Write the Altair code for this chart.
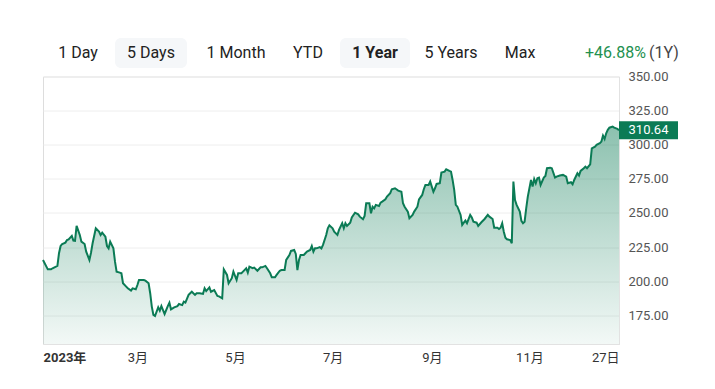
import altair as alt
import pandas as pd

# ---- data (day offset from 2023-01-01, closing price) ----
day_offsets = [
    0, 3, 5, 6, 9, 10, 11, 12, 14, 15, 16, 18, 19, 20, 21, 23, 24, 26, 27, 29,
    30, 31, 33, 35, 36, 37, 39, 40, 41, 42, 44, 45, 46, 48, 49, 50, 52, 53, 55, 56,
    58, 59, 60, 63, 64, 66, 67, 68, 69, 70, 72, 73, 74, 75, 76, 78, 79, 80, 82, 84,
    85, 87, 88, 89, 91, 92, 93, 95, 96, 98, 100, 101, 102, 104, 105, 107, 109, 110, 112, 113,
    115, 116, 118, 119, 121, 122, 124, 125, 127, 128, 129, 131, 132, 134, 136, 137, 139, 140, 142, 143,
    145, 146, 148, 149, 151, 152, 154, 155, 157, 158, 159, 160, 161, 163, 164, 165, 167, 168, 169, 170,
    171, 173, 174, 175, 177, 178, 179, 181, 182, 184, 185, 187, 188, 189, 190, 192, 193, 195, 197, 198,
    200, 201, 202, 204, 205, 206, 207, 208, 210, 211, 212, 214, 215, 217, 218, 220, 222, 224, 225, 226,
    228, 229, 231, 232, 234, 235, 237, 238, 239, 241, 242, 244, 245, 246, 248, 249, 251, 252, 254, 255,
    256, 257, 258, 259, 261, 262, 263, 264, 265, 267, 268, 269, 271, 272, 274, 276, 278, 279, 281, 282,
    284, 285, 286, 287, 288, 289, 290, 292, 293, 294, 295, 296, 298, 299, 300, 301, 302, 303, 305, 306,
    307, 308, 309, 310, 311, 313, 314, 315, 317, 318, 320, 321, 323, 325, 327, 328, 330, 331, 332, 334,
    335, 336, 338, 339, 340, 342, 343, 345, 346, 348, 349, 350, 351, 352, 353, 354, 356, 357, 359, 360,
]
prices = [
    215.6, 208.7, 208.7, 209.5, 211.2, 220.5, 225.8, 227.3, 228.3, 230.2, 230.7, 233.2, 229.7, 229.5, 240.5, 233.9, 229.0, 227.3, 221.7, 215.6,
    220.9, 227.8, 238.8, 236.3, 233.9, 235.6, 232.6, 225.8, 224.1, 229.0, 224.1, 214.3, 207.0, 206.3, 205.8, 198.5, 196.0, 194.8, 193.1, 194.8,
    194.1, 197.2, 200.9, 200.9, 200.4, 198.5, 191.2, 181.4, 175.3, 174.5, 180.9, 178.4, 181.8, 178.9, 176.0, 181.8, 184.3, 179.4, 180.9, 181.8,
    183.3, 182.5, 185.0, 184.3, 190.0, 191.2, 192.3, 190.0, 191.2, 191.2, 190.7, 194.8, 192.8, 195.5, 192.3, 193.5, 189.2, 188.9, 187.5, 208.7,
    204.6, 198.5, 202.2, 207.0, 200.9, 205.8, 205.8, 207.0, 209.5, 206.3, 210.7, 209.5, 210.0, 207.7, 210.2, 210.2, 211.2, 209.5, 205.8, 202.9,
    202.9, 204.6, 207.7, 208.2, 208.2, 215.6, 219.2, 222.2, 222.9, 220.0, 208.2, 215.6, 219.2, 219.2, 220.5, 221.7, 222.9, 225.8, 221.7, 224.1,
    224.1, 225.0, 224.1, 226.6, 233.9, 238.8, 241.0, 238.8, 236.3, 233.9, 237.6, 242.5, 238.8, 242.5, 240.5, 242.9, 246.8, 250.2, 249.0, 247.3,
    245.4, 247.8, 257.1, 257.1, 249.8, 254.6, 253.4, 255.9, 255.1, 257.6, 258.3, 260.0, 262.0, 264.5, 267.4, 268.1, 266.4, 265.6, 257.1, 254.6,
    251.0, 246.1, 248.6, 251.0, 254.6, 260.0, 263.2, 267.4, 270.5, 270.5, 273.0, 265.6, 268.1, 271.3, 271.8, 279.6, 280.3, 282.0, 280.8, 280.3,
    274.2, 266.9, 255.9, 254.6, 248.6, 241.2, 242.9, 244.4, 242.5, 248.6, 246.8, 243.6, 242.9, 240.5, 243.2, 245.6, 248.6, 247.3, 245.6, 239.2,
    239.2, 238.3, 239.2, 242.5, 236.3, 231.9, 230.7, 230.2, 227.8, 273.0, 259.5, 255.9, 251.0, 244.2, 242.5, 243.6, 253.4, 262.0, 274.2, 269.3,
    274.9, 271.8, 275.4, 275.9, 270.5, 275.9, 277.1, 282.8, 283.2, 282.8, 275.9, 276.6, 277.4, 277.9, 276.6, 271.8, 272.5, 271.0, 274.2, 279.1,
    277.4, 280.8, 282.8, 284.0, 282.8, 285.7, 297.4, 298.6, 299.9, 301.1, 302.3, 306.7, 304.2, 308.4, 310.9, 312.5, 313.3, 312.5, 311.6, 310.64,
]

x_tick_dates = ["2023-01-01", "2023-03-01", "2023-05-01", "2023-07-01", "2023-09-01", "2023-11-01", "2023-12-27"]
x_tick_labels = ["2023年", "3月", "5月", "7月", "9月", "11月", "27日"]
y_ticks = [175, 200, 225, 250, 275, 300, 325, 350]
y_floor = 154

buttons = ["1 Day", "5 Days", "1 Month", "YTD", "1 Year", "5 Years", "Max"]
selected_buttons = ["5 Days", "1 Year"]
change_text = "+46.88%"
period_text = "(1Y)"

# ---- build tables ----
start = pd.Timestamp("2023-01-01")
df = pd.DataFrame({
    "date": start + pd.to_timedelta(day_offsets, unit="D"),
    "price": prices,
})
last_df = df.tail(1)

FONT = "Roboto, 'Noto Sans CJK SC', sans-serif"
GREEN = "#0b7b55"

def dt(s):
    y, m, d = (int(p) for p in s.split("-"))
    return alt.DateTime(year=y, month=m, date=d)

label_expr = "''"
for d, lab in zip(reversed(x_tick_dates), reversed(x_tick_labels)):
    label_expr = f"timeFormat(datum.value, '%Y-%m-%d') == '{d}' ? '{lab}' : ({label_expr})"

x_enc = alt.X(
    "date:T",
    scale=alt.Scale(domain=[dt(x_tick_dates[0]), dt(x_tick_dates[-1])]),
    axis=alt.Axis(
        values=[dt(d) for d in x_tick_dates],
        tickCount=len(x_tick_dates) + 10,
        labelExpr=label_expr,
        labelFlush=True,
        labelOverlap=False,
        grid=False,
        ticks=False,
        domainColor="#e2e2e2",
        domainWidth=1,
        labelPadding=7,
        labelFont=FONT,
        labelFontSize=13,
        labelColor="#333333",
        labelFontWeight={"condition": {"test": f"timeFormat(datum.value, '%Y-%m-%d') == '{x_tick_dates[0]}'", "value": "bold"}, "value": "normal"},
        title=None,
    ),
)
y_enc = alt.Y(
    "price:Q",
    scale=alt.Scale(domain=[y_floor, 350], nice=False, zero=False),
    axis=alt.Axis(
        orient="right",
        values=y_ticks,
        tickCount=len(y_ticks) + 10,
        format=".2f",
        labelOverlap=False,
        ticks=False,
        domainColor="#e2e2e2",
        gridColor="#eeeeee",
        labelPadding=9,
        labelFont=FONT,
        labelFontSize=13,
        labelColor="#555555",
        title=None,
    ),
)

gradient = alt.Gradient(
    gradient="linear",
    stops=[
        alt.GradientStop(color="rgba(11,123,85,0.05)", offset=0),
        alt.GradientStop(color="rgba(11,123,85,0.47)", offset=1),
    ],
    x1=1, x2=1, y1=1, y2=0,
)

area = alt.Chart(df).mark_area(color=gradient).encode(x=x_enc, y=y_enc, y2=alt.datum(y_floor))
line = alt.Chart(df).mark_line(color=GREEN, strokeWidth=2).encode(x="date:T", y="price:Q")

tag = alt.Chart(last_df).mark_point(
    shape="M-1,-0.305L1,-0.305L1,0.305L-1,0.305Z",
    filled=True, color=GREEN, opacity=1, size=3481, strokeWidth=0,
).encode(x=alt.value(605.5), y="price:Q")
tag_text = alt.Chart(last_df).mark_text(
    font=FONT, fontSize=13, color="white", baseline="middle", align="center",
).encode(x=alt.value(605.5), y="price:Q", text=alt.Text("price:Q", format=".2f"))

# ---- header (range buttons) ----
button_x = [35, 108, 193, 265, 332, 408, 477]
box_x = {"5 Days": (72, 144), "1 Year": (297, 367)}
header_layers = []
for lab in selected_buttons:
    x0, x1 = box_x[lab]
    header_layers.append(
        alt.Chart(pd.DataFrame({"t": [lab]})).mark_rect(color="#f5f7f9", cornerRadius=6).encode(
            x=alt.value(x0), x2=alt.value(x1), y=alt.value(-38.5), y2=alt.value(-8.5)
        )
    )
for lab, bx in zip(buttons, button_x):
    header_layers.append(
        alt.Chart(pd.DataFrame({"t": [lab]})).mark_text(
            font=FONT, fontSize=16, color="#222222", baseline="middle", align="center",
            fontWeight="bold" if lab == "1 Year" else "normal",
        ).encode(x=alt.value(bx), y=alt.value(-23.5), text="t:N")
    )
header_layers.append(
    alt.Chart(pd.DataFrame({"t": [change_text]})).mark_text(
        font=FONT, fontSize=16, color="#23904f", baseline="middle", align="right",
    ).encode(x=alt.value(603), y=alt.value(-23.5), text="t:N")
)
header_layers.append(
    alt.Chart(pd.DataFrame({"t": [period_text]})).mark_text(
        font=FONT, fontSize=16, color="#444444", baseline="middle", align="left",
    ).encode(x=alt.value(606), y=alt.value(-23.5), text="t:N")
)

chart = alt.layer(area, line, tag, tag_text, *header_layers).properties(
    width=576,
    height=267.5,
    autosize=alt.AutoSizeParams(type="none"),
    padding={"left": 35, "top": 68.5, "right": 72, "bottom": 30},
).configure_view(stroke=None).configure(background="white")

chart.save("out.html", embed_options={"renderer": "svg", "actions": False})
